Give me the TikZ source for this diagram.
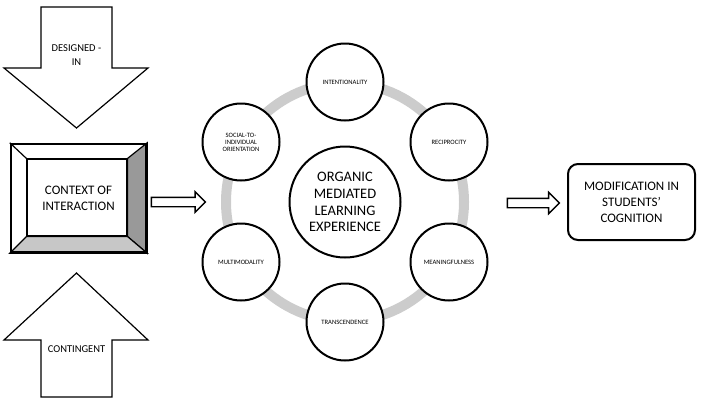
\documentclass[tikz,border=0pt]{standalone}
\usepackage{fontspec}
\setmainfont{Carlito}
\usetikzlibrary{shapes.arrows,backgrounds}

\begin{document}
\begin{tikzpicture}[x=1pt, y=-1pt]
    % Define styles for all nodes
    \tikzstyle{bigtxt} = [align=center, font=\fontsize{13}{16}\selectfont]
    \tikzstyle{arrtxt} = [align=center, font=\fontsize{10.5}{14}\selectfont]
    \tikzstyle{smalltxt} = [align=center, font=\fontsize{6.6}{7}\selectfont]
    \tikzstyle{quality} = [draw, circle, line width=2pt, fill=white, minimum size=77pt, inner sep=0pt, smalltxt]
    \tikzstyle{blockarrow} = [draw, line width=1.4pt, fill=white, single arrow, single arrow head extend=5.5pt, inner sep=4pt, minimum height=54pt]

    \useasboundingbox (0,0) rectangle (720,405);

    % Big arrows on the left
    \draw[line width=1.2pt, fill=white] (41,7) -- (112,7) -- (112,68) -- (148,68) -- (76.5,128) -- (4,68) -- (41,68) -- cycle;
    \node[arrtxt] (designed) at (76.5,55) {DESIGNED -\\IN};
    \draw[line width=1.2pt, fill=white] (76.5,273) -- (148,340) -- (112,340) -- (112,397) -- (41,397) -- (41,340) -- (4,340) -- cycle;
    \node[arrtxt] (contingent) at (76.5,349) {CONTINGENT};

    % Context box
    \node[draw, line width=2.5pt, minimum width=135pt, minimum height=108pt, bigtxt] (ctx) at (78.5,198) {CONTEXT OF\\INTERACTION};
    \node[draw, line width=1.2pt, minimum width=100pt, minimum height=77pt] (ctxin) at (77,197.5) {};
    \begin{scope}[on background layer]
        \filldraw[fill=black!40, line width=1.2pt] (ctx.north east) -- (ctx.south east) -- (ctxin.south east) -- (ctxin.north east) -- cycle;
        \filldraw[fill=black!22, line width=1.2pt] (ctx.south west) -- (ctx.south east) -- (ctxin.south east) -- (ctxin.south west) -- cycle;
        \draw[line width=1.2pt] (ctx.north west) -- (ctxin.north west);
    \end{scope}

    % Ring of qualities
    \node[draw, circle, line width=2pt, minimum size=111pt, inner sep=0pt, align=center, font=\fontsize{14.5}{16.7}\selectfont] (hub) at (345,202) {ORGANIC\\MEDIATED\\LEARNING\\EXPERIENCE};
    \draw[line width=10pt, black!20] (hub.center) circle[radius=119pt];
    \node[quality] (intent) at (345,82) {INTENTIONALITY};
    \node[quality] (recip) at (449,142) {RECIPROCITY};
    \node[quality] (meaning) at (449,262) {MEANINGFULNESS};
    \node[quality] (transc) at (345,322) {TRANSCENDENCE};
    \node[quality] (multi) at (241,262) {MULTIMODALITY};
    \node[quality] (social) at (241,142) {SOCIAL-TO-\\INDIVIDUAL\\ORIENTATION};

    % Outcome
    \node[draw, line width=2pt, rounded corners=10pt, minimum width=127pt, minimum height=76pt, bigtxt] (modif) at (631.5,202) {MODIFICATION IN\\STUDENTS’\\COGNITION};

    % Block arrows
    \node[blockarrow] (arrin) at (176,202) {};
    \node[blockarrow, minimum height=52pt, single arrow head extend=6pt] (arrout) at (531,203) {};
\end{tikzpicture}
\end{document}
